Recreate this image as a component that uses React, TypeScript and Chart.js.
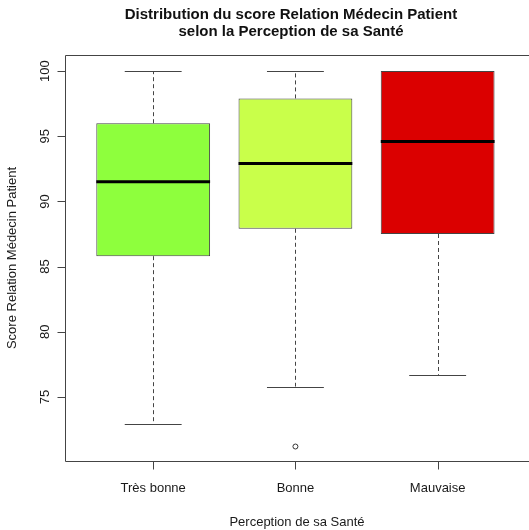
import React, { useEffect, useRef } from "react";
import { Chart, registerables } from "chart.js";

Chart.register(...registerables);

// ---- Data ----
const categories = ["Très bonne", "Bonne", "Mauvaise"];
const whiskerLow = [72.9, 75.8, 76.7];
const q1 = [85.8, 87.9, 87.5];
const medians = [91.5, 92.9, 94.6];
const q3 = [96.0, 97.9, 100.0];
const whiskerHigh = [100, 100, 100];
const outliers: number[][] = [[], [71.2], []];
const boxColors = ["#8EFF3D", "#C9FF4A", "#DB0000"];
const yTicks = [75, 80, 85, 90, 95, 100];
const titleLines = ["Distribution du score Relation Médecin Patient", "selon la Perception de sa Santé"];
const xTitle = "Perception de sa Santé";
const yTitle = "Score Relation Médecin Patient";

const FONT = "'Liberation Sans', Arial, Helvetica, sans-serif";
const LINE = "#444444";

const boxPlugin = {
  id: "rbox",
  beforeDatasetsDraw(chart: any) {
    const { ctx } = chart;
    const xs = chart.scales.x;
    const ys = chart.scales.y;
    ctx.save();
    ctx.strokeStyle = LINE;
    ctx.lineWidth = 1;
    categories.forEach((_, i) => {
      const xc = Math.round(xs.getPixelForValue(i + 1)) + 0.5;
      const xl = xs.getPixelForValue(i + 1 - 0.2);
      const xr = xs.getPixelForValue(i + 1 + 0.2);
      ctx.setLineDash([4, 3]);
      ctx.beginPath();
      ctx.moveTo(xc, ys.getPixelForValue(q3[i]));
      ctx.lineTo(xc, ys.getPixelForValue(whiskerHigh[i]));
      ctx.moveTo(xc, ys.getPixelForValue(q1[i]));
      ctx.lineTo(xc, ys.getPixelForValue(whiskerLow[i]));
      ctx.stroke();
      ctx.setLineDash([]);
      ctx.beginPath();
      const yh = Math.round(ys.getPixelForValue(whiskerHigh[i])) + 0.5;
      const yl = Math.round(ys.getPixelForValue(whiskerLow[i])) + 0.5;
      ctx.moveTo(xl, yh);
      ctx.lineTo(xr, yh);
      ctx.moveTo(xl, yl);
      ctx.lineTo(xr, yl);
      ctx.stroke();
    });
    ctx.restore();
  },
  afterDatasetsDraw(chart: any) {
    const { ctx, chartArea } = chart;
    const xs = chart.scales.x;
    const ys = chart.scales.y;
    ctx.save();
    ctx.strokeStyle = "#000";
    ctx.lineWidth = 3;
    categories.forEach((_, i) => {
      const y = ys.getPixelForValue(medians[i]);
      ctx.beginPath();
      ctx.moveTo(xs.getPixelForValue(i + 1 - 0.4), y);
      ctx.lineTo(xs.getPixelForValue(i + 1 + 0.4), y);
      ctx.stroke();
    });
    ctx.strokeStyle = LINE;
    ctx.lineWidth = 1;
    const L = Math.round(chartArea.left) + 0.5;
    const T = Math.round(chartArea.top) + 0.5;
    const B = Math.round(chartArea.bottom) + 0.5;
    const R = chart.width + 5;
    ctx.beginPath();
    ctx.moveTo(R, T);
    ctx.lineTo(L, T);
    ctx.lineTo(L, B);
    ctx.lineTo(R, B);
    ctx.stroke();
    ctx.beginPath();
    ctx.moveTo(L, ys.getPixelForValue(yTicks[0]));
    ctx.lineTo(L, ys.getPixelForValue(yTicks[yTicks.length - 1]));
    yTicks.forEach((v) => {
      const y = Math.round(ys.getPixelForValue(v)) + 0.5;
      ctx.moveTo(L - 8, y);
      ctx.lineTo(L, y);
    });
    categories.forEach((_, i) => {
      const x = Math.round(xs.getPixelForValue(i + 1)) + 0.5;
      ctx.moveTo(x, B);
      ctx.lineTo(x, B + 8);
    });
    ctx.stroke();

    ctx.fillStyle = "#1a1a1a";
    ctx.font = `13px ${FONT}`;
    ctx.textAlign = "center";
    ctx.textBaseline = "middle";
    categories.forEach((c, i) => {
      ctx.fillText(c, xs.getPixelForValue(i + 1), 488);
    });
    yTicks.forEach((v) => {
      ctx.save();
      ctx.translate(45, ys.getPixelForValue(v));
      ctx.rotate(-Math.PI / 2);
      ctx.fillText(String(v), 0, 0);
      ctx.restore();
    });
    ctx.fillText(xTitle, 297, 522);
    ctx.save();
    ctx.translate(12, (chartArea.top + chartArea.bottom) / 2);
    ctx.rotate(-Math.PI / 2);
    ctx.fillText(yTitle, 0, 0);
    ctx.restore();
    ctx.font = `bold 15px ${FONT}`;
    ctx.fillStyle = "#111";
    ctx.fillText(titleLines[0], 291, 15);
    ctx.fillText(titleLines[1], 291, 32);
    ctx.restore();
  },
};

export default function App() {
  const ref = useRef<HTMLCanvasElement | null>(null);
  useEffect(() => {
    if (!ref.current) return;
    const chart = new Chart(ref.current, {
      type: "bar",
      data: {
        datasets: [
          {
            type: "bar",
            data: categories.map((_, i) => ({ x: i + 1, y: [q1[i], q3[i]] })) as any,
            backgroundColor: boxColors,
            borderColor: LINE,
            borderWidth: 1,
            borderSkipped: false,
            categoryPercentage: 1,
            barPercentage: 0.8,
            order: 2,
          } as any,
          {
            type: "scatter",
            data: outliers.flatMap((arr, i) => arr.map((v) => ({ x: i + 1, y: v }))) as any,
            pointStyle: "circle",
            pointRadius: 2.5,
            backgroundColor: "rgba(0,0,0,0)",
            borderColor: "#333",
            borderWidth: 1,
            order: 1,
          } as any,
        ],
      },
      options: {
        responsive: false,
        animation: false,
        devicePixelRatio: 1,
        layout: { padding: { left: 65, top: 55, right: 1, bottom: 69 } },
        plugins: { legend: { display: false }, tooltip: { enabled: false }, title: { display: false } },
        scales: {
          x: {
            type: "linear",
            min: 0.38,
            max: 3.607,
            display: false,
            offset: false,
            afterBuildTicks: (s: any) => {
              s.ticks = categories.map((_, i) => ({ value: i + 1 }));
            },
          },
          y: { type: "linear", min: 70.09, max: 101.23, display: false },
        },
      } as any,
      plugins: [boxPlugin],
    });
    return () => chart.destroy();
  }, []);
  return (
    <div style={{ position: "fixed", left: 0, top: 0, width: 529, height: 530, background: "#fff", overflow: "hidden" }}>
      <canvas ref={ref} width={529} height={530} style={{ display: "block" }} />
    </div>
  );
}
